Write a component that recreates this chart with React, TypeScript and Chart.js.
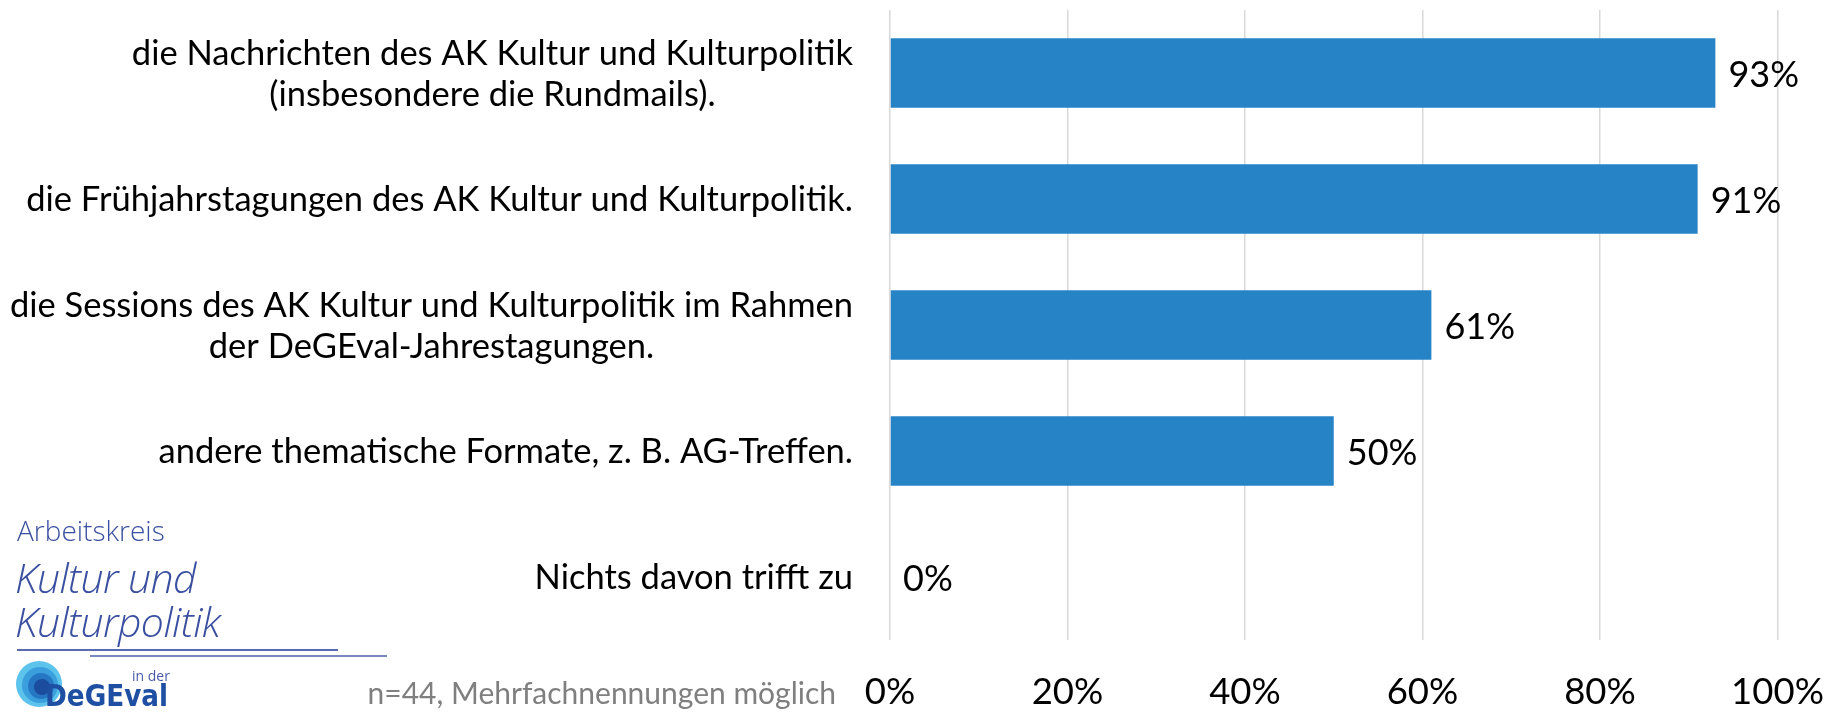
import React, { useEffect, useRef } from "react";
import { Chart, registerables } from "chart.js";
Chart.register(...registerables);

const categories: string[][] = [
  ["die Nachrichten des AK Kultur und Kulturpolitik", "(insbesondere die Rundmails)."],
  ["die Frühjahrstagungen des AK Kultur und Kulturpolitik."],
  ["die Sessions des AK Kultur und Kulturpolitik im Rahmen", "der DeGEval-Jahrestagungen."],
  ["andere thematische Formate, z. B. AG-Treffen."],
  ["Nichts davon trifft zu"],
];
const values: number[] = [93, 91, 61, 50, 0];
const tickMin = 0;
const tickMax = 100;
const tickStep = 20;
const footnote = "n=44, Mehrfachnennungen möglich";

const FONT = "Lato, 'Open Sans', sans-serif";
const BAR_COLOR = "#2683c6";

const labelPlugin = {
  id: "customLabels",
  afterDraw(chart: any) {
    const ctx = chart.ctx as CanvasRenderingContext2D;
    const xScale = chart.scales.x;
    const yScale = chart.scales.y;
    const area = chart.chartArea;
    ctx.save();
    ctx.fillStyle = "#000";
    ctx.textBaseline = "middle";

    // category labels
    ctx.font = `34.5px ${FONT}`;
    const lineH = 41;
    categories.forEach((lines, i) => {
      const cy = yScale.getPixelForValue(i);
      const widths = lines.map((l) => ctx.measureText(l).width);
      const maxW = Math.max(...widths);
      const right = area.left - 37;
      const center = right - maxW / 2;
      ctx.textAlign = "center";
      lines.forEach((l, j) => {
        const y = cy + (j - (lines.length - 1) / 2) * lineH + 1;
        ctx.fillText(l, center, y);
      });
    });

    // x tick labels
    ctx.font = `36.5px ${FONT}`;
    ctx.textAlign = "center";
    xScale.ticks.forEach((t: any) => {
      ctx.fillText(t.value + "%", xScale.getPixelForValue(t.value), 692);
    });

    // data labels
    const meta = chart.getDatasetMeta(0);
    ctx.font = `36px ${FONT}`;
    ctx.textAlign = "left";
    meta.data.forEach((bar: any, i: number) => {
      ctx.fillText(values[i] + "%", bar.x + 13, bar.y + 2);
    });

    // footnote
    ctx.font = `30px ${FONT}`;
    ctx.fillStyle = "#7f7f7f";
    ctx.textAlign = "right";
    ctx.fillText(footnote, 836, 694);
    ctx.restore();
  },
};

function Logo() {
  const blue = "#3a4fa0";
  const txt: React.CSSProperties = {
    position: "absolute",
    fontFamily: "'Open Sans', sans-serif",
    fontWeight: 300,
    color: blue,
    lineHeight: 1,
    whiteSpace: "nowrap",
  };
  return (
    <div style={{ position: "absolute", left: 0, top: 510, width: 400, height: 203, pointerEvents: "none" }}>
      <div style={{ ...txt, left: 17, top: 6, fontSize: 28 }}>Arbeitskreis</div>
      <div style={{ ...txt, left: 15, top: 47, fontSize: 41, fontStyle: "italic", letterSpacing: -0.6 }}>Kultur und</div>
      <div style={{ ...txt, left: 15, top: 91, fontSize: 41, fontStyle: "italic", letterSpacing: -0.6 }}>Kulturpolitik</div>
      <div style={{ position: "absolute", left: 17, top: 139, width: 321, height: 2, background: "#5a6ab0" }} />
      <div style={{ position: "absolute", left: 90, top: 145, width: 297, height: 2, background: "#7a88c0" }} />
      <svg style={{ position: "absolute", left: 0, top: 150 }} width={200} height={53} viewBox="0 0 200 53">
        <circle cx={39} cy={24} r={23} fill="#5cc3ec" />
        <circle cx={40} cy={25} r={18} fill="#3a9fdc" />
        <circle cx={41} cy={26} r={13} fill="#2577c4" />
        <circle cx={42} cy={27} r={8} fill="#1b4c9d" />
        <text x={132} y={21} fontFamily="'Open Sans', sans-serif" fontSize={14} fill="#4a5aa8">in der</text>
        <text x={45} y={46} fontFamily="'DejaVu Sans', sans-serif" fontWeight={700} fontSize={30} fill="#1f4fa3" textLength={123} lengthAdjust="spacingAndGlyphs">DeGEval</text>
      </svg>
    </div>
  );
}

export default function App() {
  const ref = useRef<HTMLCanvasElement>(null);
  useEffect(() => {
    document.body.style.margin = "0";
    const chart = new Chart(ref.current!, {
      type: "bar",
      data: {
        labels: categories.map((c) => c.join(" ")),
        datasets: [
          {
            data: values,
            backgroundColor: BAR_COLOR,
            borderWidth: 0,
            barPercentage: 0.55,
            categoryPercentage: 1,
          },
        ],
      },
      options: {
        indexAxis: "y",
        responsive: false,
        animation: false,
        devicePixelRatio: 1,
        layout: { padding: { left: 890, right: 63.5, top: 10, bottom: 73 } },
        plugins: { legend: { display: false }, tooltip: { enabled: false } },
        scales: {
          x: {
            min: tickMin,
            max: tickMax,
            ticks: { stepSize: tickStep, display: false },
            grid: { color: "#d9d9d9", lineWidth: 1.5, drawTicks: false },
            border: { display: false },
          },
          y: {
            display: false,
            grid: { display: false },
          },
        },
      },
      plugins: [labelPlugin],
    });
    return () => chart.destroy();
  }, []);
  return (
    <div style={{ position: "fixed", left: 0, top: 0, width: 1841, height: 713, background: "#fff" }}>
      <canvas ref={ref} width={1841} height={713} style={{ position: "absolute", left: 0, top: 0 }} />
      <Logo />
    </div>
  );
}
